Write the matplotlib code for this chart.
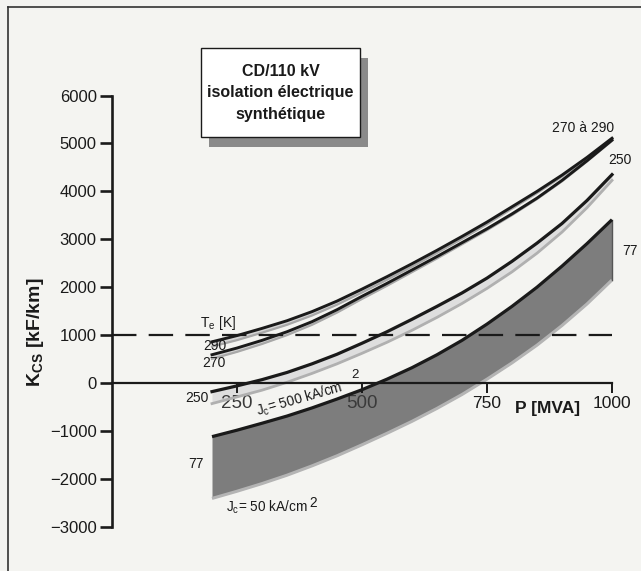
import matplotlib
matplotlib.use("Agg")
import matplotlib.pyplot as plt
from matplotlib.patches import Rectangle
from matplotlib.lines import Line2D

plt.rcParams['font.family'] = ['Liberation Sans', 'DejaVu Sans']
plt.rcParams['mathtext.fontset'] = 'custom'
plt.rcParams['mathtext.rm'] = 'Liberation Sans'
plt.rcParams['mathtext.bf'] = 'Liberation Sans:bold'

# ---------------- data ----------------
P = [200, 250, 300, 350, 400, 450, 500, 550, 600, 650, 700, 750, 800, 850, 900, 950, 1000]  # MVA
# Jc = 500 kA/cm2 (upper black line) and Jc = 50 kA/cm2 (lower grey edge), K_CS in kF/km
k290_hi = [860, 990, 1140, 1300, 1490, 1710, 1960, 2220, 2490, 2770, 3060, 3360, 3680, 4000, 4340, 4710, 5110]
k290_lo = [760, 895, 1050, 1215, 1410, 1635, 1890, 2155, 2430, 2715, 3010, 3315, 3640, 3965, 4310, 4685, 5085]
k270_hi = [590, 730, 890, 1070, 1280, 1530, 1810, 2080, 2360, 2640, 2930, 3220, 3530, 3860, 4230, 4640, 5070]
k270_lo = [505, 650, 815, 1000, 1215, 1470, 1755, 2030, 2315, 2600, 2895, 3190, 3505, 3840, 4210, 4625, 5055]
k250_hi = [-180, -60, 70, 220, 400, 600, 830, 1070, 1330, 1600, 1880, 2190, 2540, 2920, 3330, 3810, 4350]
k250_lo = [-430, -290, -150, 15, 200, 400, 620, 850, 1100, 1370, 1660, 1975, 2320, 2710, 3150, 3660, 4230]
k77_hi = [-1120, -985, -840, -690, -520, -335, -140, 80, 320, 590, 890, 1230, 1600, 2000, 2440, 2910, 3410]
k77_lo = [-2410, -2260, -2100, -1925, -1730, -1520, -1290, -1050, -800, -530, -240, 80, 420, 790, 1200, 1650, 2150]

yticks = [-3000, -2000, -1000, 0, 1000, 2000, 3000, 4000, 5000, 6000]
ytick_labels = ['−3000', '−2000', '−1000', '0', '1000', '2000', '3000', '4000', '5000', '6000']
xticks = [250, 500, 750, 1000]
xtick_labels = ['250', '500', '750', '1000']
ref_level = 1000

W, H = 641, 571
fig = plt.figure(figsize=(W / 100, H / 100), dpi=100)
bg = '#f4f4f1'
fig.patch.set_facecolor(bg)
ax = fig.add_axes([0, 0, 1, 1])
ax.patch.set_alpha(0)

# pixel mapping: x_px = 112 + 0.5 P ; y_px = 383 - 0.0479 K
ax.set_xlim(-224, (W - 112) * 2)
ax.set_ylim((383 - H) / 0.0479, 383 / 0.0479)


def fx(x):
    return x / W


def fy(y):
    return 1 - y / H


def px2k(y):
    return (383 - y) / 0.0479


def px2p(x):
    return (x - 112) * 2


# frame (left and top lines)
fig.add_artist(Line2D([fx(8), fx(8)], [fy(7), 0], color='#333333', lw=1.2))
fig.add_artist(Line2D([fx(8), 1], [fy(7), fy(7)], color='#333333', lw=1.2))

black = '#1a1a1a'
# 77 K band
ax.fill_between(P, k77_lo, k77_hi, color='#7d7d7d', lw=0, zorder=1)
ax.plot(P, k77_lo, color='#b4b4b4', lw=2.2, zorder=2, solid_capstyle='butt')
ax.plot(P, k77_hi, color=black, lw=2.3, zorder=3, solid_capstyle='butt')
ax.plot([P[-1], P[-1]], [k77_lo[-1], k77_hi[-1]], color='#555555', lw=1.0, zorder=2)

# 250 K band
ax.fill_between(P, k250_lo, k250_hi, color='#dedede', lw=0, zorder=1)
ax.plot(P, k250_lo, color='#b0b0b0', lw=2.0, zorder=2)
ax.plot(P, k250_hi, color=black, lw=2.3, zorder=3)

# 270 K band
ax.fill_between(P, k270_lo, k270_hi, color='#d4d4d4', lw=0, zorder=1)
ax.plot(P, k270_lo, color='#a8a8a8', lw=1.6, zorder=2)
ax.plot(P, k270_hi, color=black, lw=2.1, zorder=3)

# 290 K band
ax.fill_between(P, k290_lo, k290_hi, color='#d4d4d4', lw=0, zorder=1)
ax.plot(P, k290_lo, color='#a8a8a8', lw=1.6, zorder=2)
ax.plot(P, k290_hi, color=black, lw=2.1, zorder=3)

# dashed reference line at 1000
ax.plot([0, 1000], [ref_level, ref_level], color=black, lw=1.6,
        linestyle=(0, (11, 5.5)), zorder=4)

# axes
for s in ['top', 'right']:
    ax.spines[s].set_visible(False)
ax.spines['left'].set_position(('data', 0))
ax.spines['left'].set_bounds(-3000, 6000)
ax.spines['left'].set_linewidth(1.9)
ax.spines['left'].set_color(black)
ax.spines['left'].set_zorder(5)
ax.spines['bottom'].set_position(('data', 0))
ax.spines['bottom'].set_bounds(0, 1000)
ax.spines['bottom'].set_linewidth(1.6)
ax.spines['bottom'].set_color(black)
ax.spines['bottom'].set_zorder(5)

ax.set_yticks(yticks)
ax.set_yticklabels(ytick_labels)
ax.tick_params(axis='y', direction='out', length=9, width=1.9, pad=2,
               labelsize=12, colors=black)
ax.set_xticks(xticks)
ax.set_xticklabels(xtick_labels)
ax.tick_params(axis='x', direction='out', length=7, width=1.4, pad=2,
               labelsize=12.5, colors=black)
for lab in ax.get_xticklabels()[:2]:
    lab.set_fontsize(13.5)
    lab.set_color('#3a3a3a')

ax.text(px2p(515), px2k(409), 'P [MVA]', fontsize=12.5, fontweight='bold',
        ha='left', va='center', color=black)

ax.text(px2p(36), px2k(332), r'K$_\mathregular{CS}$ [kF/km]', rotation=90, fontsize=14,
        fontweight='bold', ha='center', va='center', color=black)

# left labels
ax.text(px2p(200), px2k(327), r'T$_\mathregular{e}$ [K]', fontsize=10, ha='left',
        va='baseline', color=black)
ax.text(px2p(226), px2k(346), '290', fontsize=10, ha='right', va='center', color=black)
ax.text(px2p(226), px2k(363), '270', fontsize=10, ha='right', va='center', color=black)
ax.text(px2p(209), px2k(398), '250', fontsize=10, ha='right', va='center', color=black)
ax.text(px2p(204), px2k(464), '77', fontsize=10, ha='right', va='center', color=black)

# right labels
ax.text(px2p(583), px2k(128), '270 à 290', fontsize=10, ha='center', va='center', color=black)
ax.text(px2p(620), px2k(160), '250', fontsize=10, ha='center', va='center', color=black)
ax.text(px2p(630), px2k(251), '77', fontsize=10, ha='center', va='center', color=black)

# Jc annotations
ax.text(px2p(258), px2k(416), r'J$_\mathregular{c}$= 500 kA/cm', fontsize=9.8,
        rotation=16, rotation_mode='anchor', ha='left', va='baseline', color=black)
ax.text(px2p(351), px2k(378), '2', fontsize=9.5, ha='left', va='baseline', color=black)
ax.text(px2p(226), px2k(512), r'J$_\mathregular{c}$= 50 kA/cm', fontsize=9.8,
        ha='left', va='baseline', color=black)
ax.text(px2p(309), px2k(507), '2', fontsize=9.8, ha='left', va='baseline', color=black)

# title box with shadow
bx0, by0, bx1, by1 = 201, 48, 360, 137
fig.add_artist(Rectangle((fx(bx0 + 8), fy(by1 + 10)), (bx1 - bx0) / W, (by1 - by0) / H,
                         facecolor='#8a8a8a', edgecolor='none'))
fig.add_artist(Rectangle((fx(bx0), fy(by1)), (bx1 - bx0) / W, (by1 - by0) / H,
                         facecolor='white', edgecolor=black, lw=1.0))
cx = fx((bx0 + bx1) / 2)
for txt, yy in [('CD/110 kV', 71), ('isolation électrique', 93), ('synthétique', 115)]:
    fig.text(cx, fy(yy), txt, fontsize=11.5, fontweight='bold', ha='center', va='center',
             color=black)

fig.savefig('out.png', dpi=100, facecolor=fig.get_facecolor())
